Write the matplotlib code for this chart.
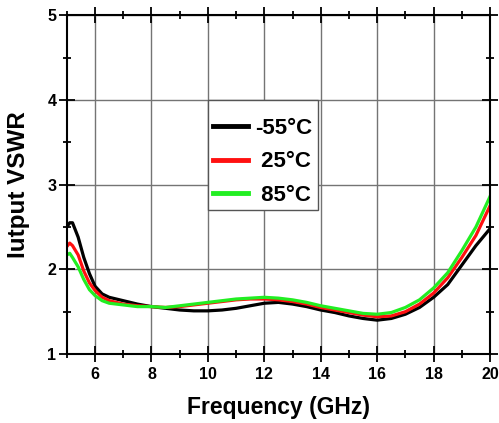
import numpy as np
import matplotlib.pyplot as plt
from matplotlib.patches import Rectangle
from matplotlib.ticker import MultipleLocator

plt.rcParams['font.family'] = ['Liberation Sans', 'DejaVu Sans']

# Data
freq = [5.0, 5.1, 5.2, 5.4, 5.6, 5.8, 6.0, 6.25, 6.5, 7.0, 7.5, 8.0, 8.5, 9.0, 9.5, 10.0, 10.5,
        11.0, 11.5, 12.0, 12.5, 13.0, 13.5, 14.0, 14.5, 15.0, 15.5, 16.0, 16.5, 17.0, 17.5,
        18.0, 18.5, 19.0, 19.5, 20.0]
vswr_m55 = [2.50, 2.55, 2.55, 2.38, 2.14, 1.95, 1.80, 1.71, 1.67, 1.63, 1.59, 1.56, 1.54, 1.52,
            1.51, 1.51, 1.52, 1.54, 1.57, 1.60, 1.61, 1.59, 1.56, 1.52, 1.49, 1.45, 1.42, 1.40,
            1.42, 1.47, 1.55, 1.67, 1.82, 2.05, 2.28, 2.48]
vswr_25 = [2.27, 2.31, 2.28, 2.17, 1.98, 1.84, 1.75, 1.67, 1.63, 1.59, 1.57, 1.56, 1.55, 1.56,
           1.58, 1.60, 1.62, 1.64, 1.65, 1.65, 1.64, 1.62, 1.59, 1.55, 1.52, 1.49, 1.46, 1.44,
           1.45, 1.50, 1.59, 1.72, 1.90, 2.14, 2.40, 2.75]
vswr_85 = [2.17, 2.19, 2.14, 2.03, 1.88, 1.76, 1.69, 1.63, 1.60, 1.58, 1.56, 1.56, 1.55, 1.57,
           1.59, 1.61, 1.63, 1.65, 1.66, 1.67, 1.66, 1.64, 1.61, 1.57, 1.54, 1.51, 1.48, 1.47,
           1.49, 1.55, 1.64, 1.78, 1.96, 2.22, 2.50, 2.86]
labels = ['-55\u00b0C', '\u200825\u00b0C', '\u200885\u00b0C']
colors = ['black', '#ff1010', '#22ee22']

fig = plt.figure(figsize=(4.99, 4.23), dpi=100)
ax = fig.add_axes([0.134, 0.163, 0.848, 0.801])

for y, lab, c in zip([vswr_m55, vswr_25, vswr_85], labels, colors):
    ax.plot(freq, y, color=c, lw=2.3, label=lab)

ax.set_xlim(5, 20)
ax.set_ylim(1, 5)
ax.xaxis.set_minor_locator(MultipleLocator(1))
ax.yaxis.set_major_locator(MultipleLocator(1))
ax.yaxis.set_minor_locator(MultipleLocator(0.5))
ax.set_xticks(np.arange(6, 21, 2))
ax.grid(True, which='major', color='#747474', lw=1)
ax.tick_params(which='both', direction='inout', width=1.3, top=True, right=True,
               labelsize=11.5)
ax.tick_params(which='major', length=11)
ax.tick_params(which='minor', length=6)
ax.tick_params(axis='x', pad=4)
ax.tick_params(axis='y', pad=2)
for lab in ax.get_xticklabels() + ax.get_yticklabels():
    lab.set_fontweight('bold')
for s in ax.spines.values():
    s.set_linewidth(1.5)

ax.set_xlabel('Frequency (GHz)', fontsize=16.5, fontweight='bold', labelpad=10)
ax.set_ylabel('Iutput VSWR', fontsize=17.5, fontweight='bold')
ax.yaxis.set_label_coords(-0.088, 0.5)

# legend box drawn separately so its padding can match the reference
ax.add_patch(Rectangle((0.333, 0.425), 0.26, 0.324, transform=ax.transAxes,
                       facecolor='white', edgecolor='#555555', lw=1, zorder=4))
leg = ax.legend(loc='upper left', bbox_to_anchor=(0.345, 0.696), frameon=False,
                handlelength=1.58, handletextpad=0.32, borderpad=0, borderaxespad=0,
                prop={'size': 16, 'weight': 'bold'}, labelspacing=0.55)
leg.set_zorder(5)
for l in leg.get_lines():
    l.set_linewidth(3.5)

fig.savefig('out.png', dpi=100)
